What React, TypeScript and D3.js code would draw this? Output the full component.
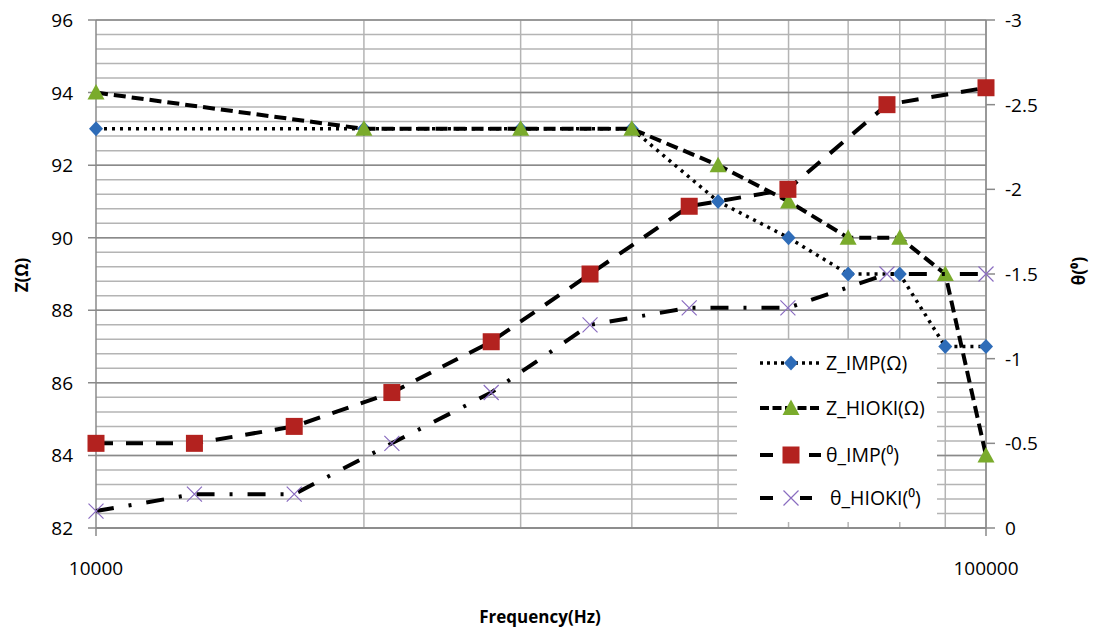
import React from "react";
import * as d3 from "d3";

const zFreq = [10000, 20000, 30000, 40000, 50000, 60000, 70000, 80000, 90000, 100000];
const zImp = [93, 93, 93, 93, 91, 90, 89, 89, 87, 87];
const zHioki = [94, 93, 93, 93, 92, 91, 90, 90, 89, 84];
const thetaFreq = [10000, 12900, 16700, 21500, 27800, 35900, 46400, 59900, 77400, 100000];
const thetaImp = [-0.5, -0.5, -0.6, -0.8, -1.1, -1.5, -1.9, -2.0, -2.5, -2.6];
const thetaHioki = [-0.1, -0.2, -0.2, -0.5, -0.8, -1.2, -1.3, -1.3, -1.5, -1.5];
const leftTicks = [82, 84, 86, 88, 90, 92, 94, 96];
const rightTicks = [0, -0.5, -1, -1.5, -2, -2.5, -3];
const xLabelTicks = [10000, 100000];
const xGridTicks = [20000, 30000, 40000, 50000, 60000, 70000, 80000, 90000, 100000];
const seriesNames = ["Z_IMP(Ω)", "Z_HIOKI(Ω)", "θ_IMP(⁰)", "θ_HIOKI(⁰)"];

const FONT = "'Open Sans', 'Noto Sans', sans-serif";
const L = 96, R = 986, T = 20, B = 528;

const x = d3.scaleLog().domain([10000, 100000]).range([L, R]);
const yL = d3.scaleLinear().domain([82, 96]).range([B, T]);
const yR = d3.scaleLinear().domain([0, -3]).range([B, T]);

const BLUE = "#2e6cb8";
const GREEN = "#7aab2c";
const RED = "#b3221f";
const PURPLE = "#8a6cc0";

const styles = [
  { dash: "3 5", width: 3.5, cap: "butt" },
  { dash: "12 6", width: 4, cap: "butt" },
  { dash: "17 13", width: 4, cap: "butt" },
  { dash: "18 15 3 15", width: 4, cap: "butt" },
];

// legend sample segments [x1, x2, dash]
const legendSegs: [number, number, string | undefined][][] = [
  [[760, 822, "3 4"]],
  [[760, 822, "9 3.5"]],
  [[760, 773, undefined], [809, 821, undefined]],
  [[760, 773, undefined], [800, 812, undefined]],
];

function Marker({ kind, cx, cy }: { kind: number; cx: number; cy: number }) {
  if (kind === 0) {
    const s = 7.5;
    return <path d={`M${cx},${cy - s}L${cx + s - 0.5},${cy}L${cx},${cy + s}L${cx - s + 0.5},${cy}Z`} fill={BLUE} />;
  }
  if (kind === 1) {
    return <path d={`M${cx},${cy - 8.5}L${cx + 8.5},${cy + 7}L${cx - 8.5},${cy + 7}Z`} fill={GREEN} />;
  }
  if (kind === 2) {
    return <rect x={cx - 8.5} y={cy - 8.5} width={17} height={17} fill={RED} />;
  }
  const s = 7.5;
  return (
    <path d={`M${cx - s},${cy - s}L${cx + s},${cy + s}M${cx - s},${cy + s}L${cx + s},${cy - s}`} stroke={PURPLE} strokeWidth={1.2} fill="none" />
  );
}

export default function App() {
  const series = [
    { xs: zFreq, ys: zImp, y: yL },
    { xs: zFreq, ys: zHioki, y: yL },
    { xs: thetaFreq, ys: thetaImp, y: yR },
    { xs: thetaFreq, ys: thetaHioki, y: yR },
  ];
  const minor: number[] = d3.range(82, 96.001, 0.4).map((v) => +v.toFixed(1));

  return (
    <svg width={1093} height={628} style={{ position: "absolute", left: 0, top: 0, background: "#fff" }} fontFamily={FONT}>
      <rect width={1093} height={628} fill="#fff" />
      {minor.map((v) => (
        <line key={"m" + v} x1={L} x2={R} y1={yL(v)} y2={yL(v)} stroke="#b4b4b4" strokeWidth={1.5} />
      ))}
      {xGridTicks.map((f) => (
        <line key={"v" + f} x1={x(f)} x2={x(f)} y1={T} y2={B} stroke="#b4b4b4" strokeWidth={1.5} />
      ))}
      {leftTicks.map((v) => (
        <line key={"M" + v} x1={L - 8} x2={R} y1={yL(v)} y2={yL(v)} stroke="#8a8a8a" strokeWidth={1.5} />
      ))}
      {rightTicks.map((v) => (
        <line key={"rt" + v} x1={R} x2={R + 9} y1={yR(v)} y2={yR(v)} stroke="#8a8a8a" strokeWidth={1.5} />
      ))}
      <line x1={L} x2={L} y1={T} y2={B + 8} stroke="#8a8a8a" strokeWidth={1.5} />
      <line x1={R} x2={R} y1={T} y2={B + 8} stroke="#8a8a8a" strokeWidth={1.5} />
      <line x1={L} x2={R} y1={B} y2={B} stroke="#8a8a8a" strokeWidth={1.5} />

      {series.map((s, i) => {
        const line = d3
          .line<number>()
          .x((_, j) => x(s.xs[j]))
          .y((v) => s.y(v));
        return (
          <g key={"s" + i}>
            <path d={line(s.ys) || ""} fill="none" stroke="#000" strokeWidth={styles[i].width} strokeDasharray={styles[i].dash} strokeLinecap={styles[i].cap as any} />
            {s.ys.map((v, j) => (
              <Marker key={j} kind={i} cx={x(s.xs[j])} cy={s.y(v)} />
            ))}
          </g>
        );
      })}

      <rect x={737} y={340} width={200} height={182} fill="#fff" />
      {seriesNames.map((n, i) => {
        const cy = [363, 408, 455, 498][i];
        return (
          <g key={"lg" + i}>
            {legendSegs[i].map(([a, b, d], k) => (
              <line key={k} x1={a} x2={b} y1={cy} y2={cy} stroke="#000" strokeWidth={styles[i].width} strokeDasharray={d} />
            ))}
            <Marker kind={i} cx={791} cy={cy} />
            <text x={i === 3 ? 830 : 826} y={cy + 7} fontSize={19.5} fill="#000">{n}</text>
          </g>
        );
      })}

      {leftTicks.map((v) => (
        <text key={"lt" + v} x={73} y={yL(v) + 7} fontSize={19} textAnchor="end" fill="#000">{v}</text>
      ))}
      {rightTicks.map((v) => (
        <text key={"rl" + v} x={1005} y={yR(v) + 7} fontSize={19} textAnchor="start" fill="#000">{v}</text>
      ))}
      {xLabelTicks.map((f) => (
        <text key={"xl" + f} x={x(f)} y={575} fontSize={19} textAnchor="middle" fill="#000">{f}</text>
      ))}

      <text x={540} y={623} fontSize={17} fontWeight="bold" textAnchor="middle" fill="#000">Frequency(Hz)</text>
      <text transform="translate(28,275) rotate(-90)" fontSize={17} fontWeight="bold" textAnchor="middle" fill="#000">Z(Ω)</text>
      <text transform="translate(1085,271) rotate(-90)" fontSize={17} fontWeight="bold" textAnchor="middle" fill="#000">θ(⁰)</text>
    </svg>
  );
}
